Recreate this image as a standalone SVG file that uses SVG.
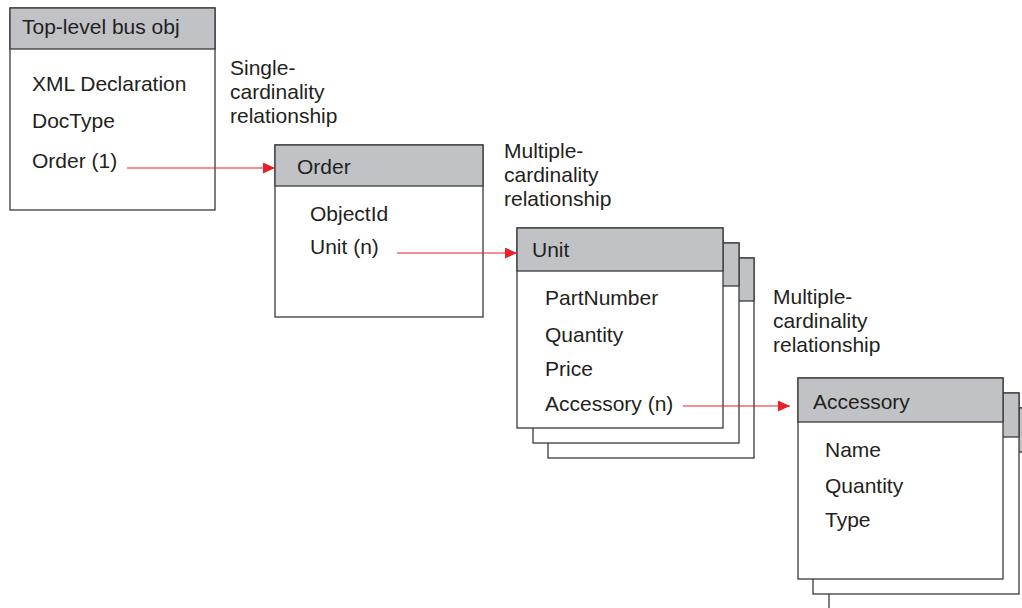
<svg xmlns="http://www.w3.org/2000/svg" width="1022" height="608" viewBox="0 0 1022 608">
<style>
.box{fill:#fff;stroke:#3a3a3a;stroke-width:1.3}
.hdr{fill:#c1c2c6;stroke:#3a3a3a;stroke-width:1.3}
text{font-family:"Liberation Sans",Arial,sans-serif;font-size:21px;fill:#231f20}
.conn{stroke:#e8202a;stroke-width:1.2;fill:none}
</style>
<defs>
<marker id="ah" markerWidth="12" markerHeight="11" refX="12" refY="5.5" orient="auto" markerUnits="userSpaceOnUse">
<path d="M0,0 L12,5.5 L0,11 Z" fill="#e8202a"/>
</marker>
</defs>
<rect width="1022" height="608" fill="#fff"/>
<g id="toplevel">
<rect class="box" x="10" y="8" width="205" height="202"/>
<rect class="hdr" x="10" y="8" width="205" height="41"/>
<text x="22" y="34">Top-level bus obj</text>
<text x="32" y="91">XML Declaration</text>
<text x="32" y="128">DocType</text>
<text x="32" y="168">Order (1)</text>
</g>
<g id="label-single">
<text x="230" y="75">Single-</text>
<text x="230" y="99">cardinality</text>
<text x="230" y="123">relationship</text>
</g>
<g id="order">
<rect class="box" x="275" y="145" width="208" height="172"/>
<rect class="hdr" x="275" y="145" width="208" height="41"/>
<text x="297" y="174">Order</text>
<text x="310" y="221">ObjectId</text>
<text x="310" y="254">Unit (n)</text>
</g>
<g id="label-multiple1">
<text x="504" y="158">Multiple-</text>
<text x="504" y="182">cardinality</text>
<text x="504" y="206">relationship</text>
</g>
<g id="unit">
<rect class="box" x="548" y="258" width="206" height="200"/>
<rect class="hdr" x="548" y="258" width="206" height="43"/>
<rect class="box" x="533" y="243" width="206" height="200"/>
<rect class="hdr" x="533" y="243" width="206" height="43"/>
<rect class="box" x="517" y="228" width="206" height="200"/>
<rect class="hdr" x="517" y="228" width="206" height="43"/>
<text x="532" y="257">Unit</text>
<text x="545" y="305">PartNumber</text>
<text x="545" y="342">Quantity</text>
<text x="545" y="376">Price</text>
<text x="545" y="411">Accessory (n)</text>
</g>
<g id="label-multiple2">
<text x="773" y="304">Multiple-</text>
<text x="773" y="328">cardinality</text>
<text x="773" y="352">relationship</text>
</g>
<g id="accessory">
<rect class="box" x="829" y="408" width="206" height="210"/>
<rect class="hdr" x="829" y="408" width="206" height="44"/>
<rect class="box" x="813" y="393" width="206" height="201"/>
<rect class="hdr" x="813" y="393" width="206" height="44"/>
<rect class="box" x="798" y="378" width="205" height="201"/>
<rect class="hdr" x="798" y="378" width="205" height="44"/>
<text x="813" y="409">Accessory</text>
<text x="825" y="457">Name</text>
<text x="825" y="493">Quantity</text>
<text x="825" y="527">Type</text>
</g>
<g id="connectors">
<line class="conn" x1="127" y1="168" x2="275" y2="168" marker-end="url(#ah)"/>
<line class="conn" x1="397" y1="253" x2="517" y2="253" marker-end="url(#ah)"/>
<line class="conn" x1="683" y1="406" x2="790" y2="406" marker-end="url(#ah)"/>
</g>
</svg>
